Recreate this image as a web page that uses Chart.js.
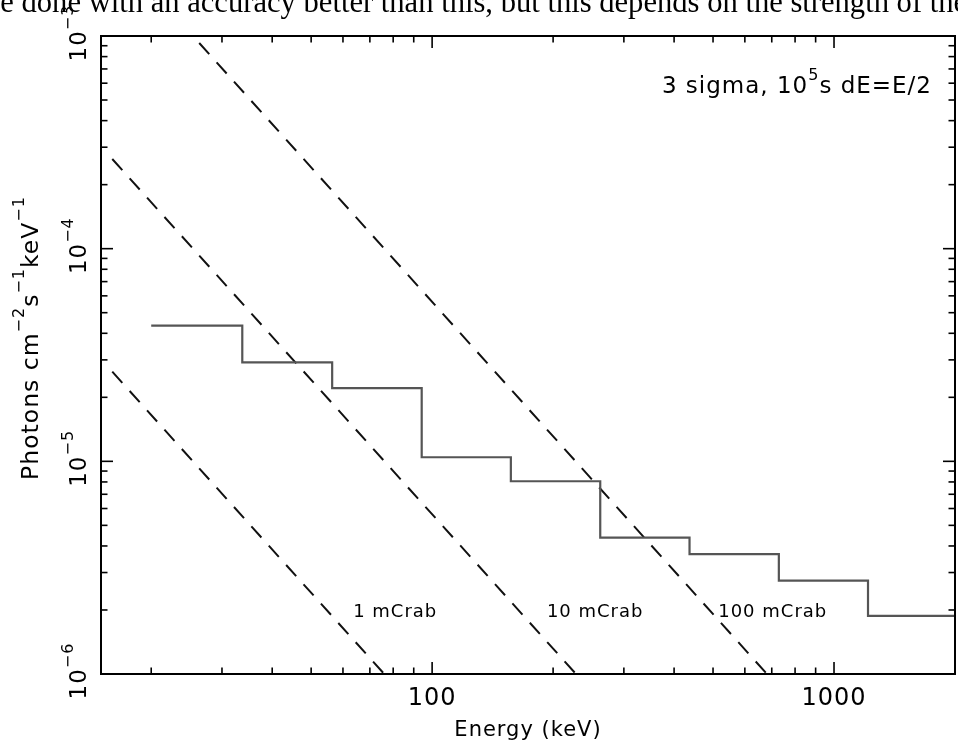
<!DOCTYPE html>
<html>
<head>
<meta charset="utf-8">
<script src="https://cdn.jsdelivr.net/npm/chart.js@4.4.1/dist/chart.umd.min.js"></script>
<style>
  html, body { margin: 0; padding: 0; background: #fff; overflow: hidden; }
  #wrap { position: relative; width: 958px; height: 742px; overflow: hidden; }
  #pagetext {
    position: absolute; left: -15px; top: -13px;
    font: 30.6px/30px "Liberation Serif", serif; white-space: nowrap; color: #000;
  }
</style>
</head>
<body>
<div id="wrap">
  <canvas id="chart" width="958" height="742"></canvas>
  <div id="pagetext">be done with an accuracy better than this, but this depends on the strength of the</div>
</div>
<script>
// sensitivity histogram: left bin edges (keV) and flux per bin
const binEdges = [20, 33.7, 56.4, 94.2, 157, 262, 437, 729, 1215, 2025];
const binFlux = [4.35e-5, 2.92e-5, 2.21e-5, 1.045e-5, 8.06e-6, 4.38e-6, 3.66e-6, 2.75e-6, 1.876e-6];

// Crab reference lines (start / end points)
const crabNames = ["1 mCrab", "10 mCrab", "100 mCrab"];
const crabEnergy = [[16, 76], [16, 228], [16, 681]];
const crabFlux = [[2.64e-5, 1e-6], [2.64e-4, 1e-6], [2.64e-3, 1e-6]];

// axis ticks
const xTickLabels = [100, 1000];
const yTickExp = [-3, -4, -5, -6];

const FONT = '"DejaVu Sans", sans-serif';

// where the crab labels sit (energy of left edge, flux of baseline)
const crabLabelAt = [[63.6, 1.85e-6], [193, 1.85e-6], [515, 1.85e-6]];

const stepData = binFlux.map((f, i) => ({ x: binEdges[i], y: f }));
stepData.push({ x: binEdges[binEdges.length - 1], y: binFlux[binFlux.length - 1] });

const datasets = [{
  label: "sensitivity",
  data: stepData,
  stepped: true,
  borderColor: "#555",
  borderWidth: 2.2,
  pointRadius: 0,
  fill: false
}];
crabNames.forEach((name, i) => {
  datasets.push({
    label: name,
    data: crabEnergy[i].map((e, j) => ({ x: e, y: crabFlux[i][j] })),
    borderColor: "#111",
    borderWidth: 2,
    borderDash: [15, 11],
    pointRadius: 0,
    fill: false
  });
});

// draws text made of [string, isSuperscript] pieces
function drawParts(ctx, parts, x, y, size, align) {
  const widths = parts.map(([t, sup]) => {
    ctx.font = (sup ? Math.round(size * 0.7) : size) + "px " + FONT;
    return ctx.measureText(t).width;
  });
  const total = widths.reduce((a, b) => a + b, 0);
  let cx = x;
  if (align === "center") cx = x - total / 2;
  if (align === "right") cx = x - total;
  parts.forEach(([t, sup], i) => {
    ctx.font = (sup ? Math.round(size * 0.7) : size) + "px " + FONT;
    ctx.fillText(t, cx, sup ? y - size * 0.58 : y);
    cx += widths[i];
  });
}

const framePlugin = {
  id: "frame",
  afterDraw(chart) {
    const { ctx, chartArea: a, scales: { x, y } } = chart;
    ctx.save();
    ctx.strokeStyle = "#000";
    ctx.fillStyle = "#000";
    ctx.lineWidth = 2;
    ctx.strokeRect(a.left, a.top, a.right - a.left, a.bottom - a.top);

    ctx.lineWidth = 1.6;
    const seg = (x1, y1, x2, y2) => {
      ctx.beginPath(); ctx.moveTo(x1, y1); ctx.lineTo(x2, y2); ctx.stroke();
    };
    // x ticks, bottom and top, pointing in
    for (let d = 10; d <= 1000; d *= 10) {
      for (let m = 1; m <= 9; m++) {
        const v = m * d;
        if (v < x.min || v > x.max) continue;
        const px = x.getPixelForValue(v);
        const len = m === 1 ? 12 : 6.5;
        seg(px, a.bottom, px, a.bottom - len);
        seg(px, a.top, px, a.top + len);
      }
    }
    // y ticks, left and right
    for (let e = -6; e < -3; e++) {
      for (let m = 1; m <= 9; m++) {
        const v = m * Math.pow(10, e);
        const py = y.getPixelForValue(v);
        const len = m === 1 ? 12 : 6.5;
        seg(a.left, py, a.left + len, py);
        seg(a.right, py, a.right - len, py);
      }
    }

    ctx.letterSpacing = "1px";
    ctx.textBaseline = "alphabetic";
    ctx.textAlign = "left";

    // x tick labels
    xTickLabels.forEach(v => {
      drawParts(ctx, [[String(v), false]], x.getPixelForValue(v), a.bottom + 31, 24, "center");
    });

    // y tick labels, rotated
    yTickExp.forEach(e => {
      const py = y.getPixelForValue(Math.pow(10, e));
      ctx.save();
      ctx.translate(a.left - 15, py - 3);
      ctx.rotate(-Math.PI / 2);
      drawParts(ctx, [["10", false], ["\u2212" + Math.abs(e), true]], 0, 0, 23, "center");
      ctx.restore();
    });

    // axis titles
    drawParts(ctx, [["Energy (keV)", false]], (a.left + a.right) / 2, 736, 21, "center");
    ctx.save();
    ctx.translate(38, 338);
    ctx.rotate(-Math.PI / 2);
    drawParts(ctx, [["Photons cm", false], ["\u22122", true], ["s", false], ["\u22121", true],
      ["keV", false], ["\u22121", true]], 0, 0, 23.5, "center");
    ctx.restore();

    // annotation top right
    drawParts(ctx, [["3 sigma, 10", false], ["5", true], ["s dE=E/2", false]], a.right - 23, 93, 23, "right");

    // crab labels
    crabNames.forEach((name, i) => {
      const [e, f] = crabLabelAt[i];
      drawParts(ctx, [[name, false]], x.getPixelForValue(e), y.getPixelForValue(f), 18, "left");
    });
    ctx.restore();
  }
};

new Chart(document.getElementById("chart").getContext("2d"), {
  type: "line",
  data: { datasets },
  options: {
    responsive: false,
    animation: false,
    layout: { padding: { left: 101, top: 36, right: 3, bottom: 68 } },
    plugins: { legend: { display: false }, tooltip: { enabled: false } },
    scales: {
      x: { type: "logarithmic", min: 15, max: 2000, display: false },
      y: { type: "logarithmic", min: 1e-6, max: 1e-3, display: false }
    }
  },
  plugins: [framePlugin]
});
</script>
</body>
</html>
